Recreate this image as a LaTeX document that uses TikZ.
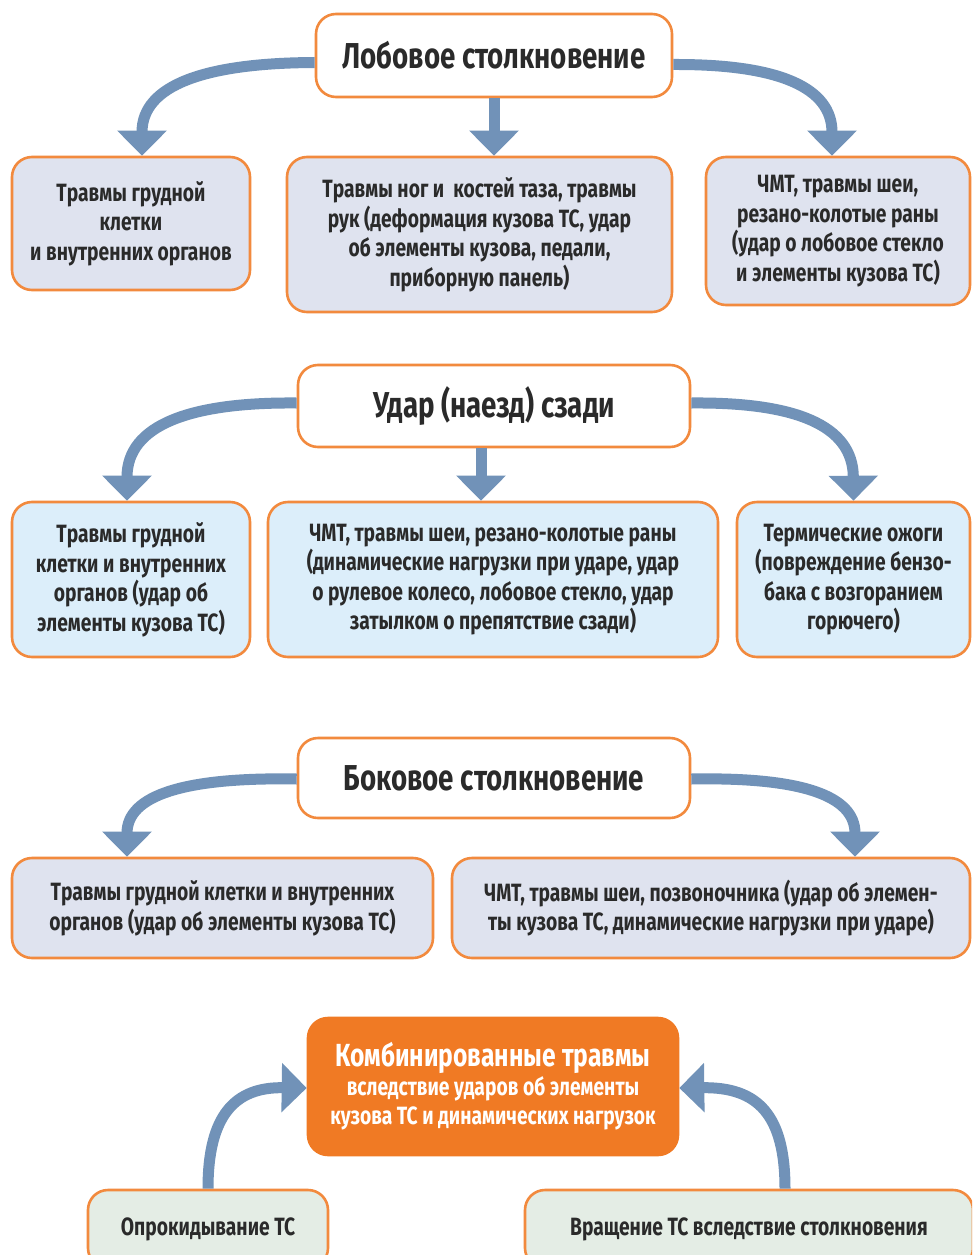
\documentclass[tikz,border=0pt]{standalone}
\usepackage{fontspec}
\newfontfamily\cond{Fira Sans}[FakeStretch=0.77]
\usetikzlibrary{arrows.meta}
\definecolor{orl}{HTML}{F28A3E}
\definecolor{orf}{HTML}{F07A24}
\definecolor{arrc}{HTML}{7192B8}
\definecolor{lav}{HTML}{DFE3EF}
\definecolor{lblue}{HTML}{DCEEFA}
\definecolor{lgreen}{HTML}{E4EDE5}
\definecolor{txt}{HTML}{2A2A2A}
\begin{document}
\begin{tikzpicture}[x=1pt,y=-1pt,
  box/.style={draw=orl, line width=2.6pt, rounded corners=20pt, align=center,
    text=txt, inner sep=0pt, font=\cond\bfseries\fontsize{25}{29.5}\selectfont},
  titlebox/.style={box, fill=white, font=\cond\bfseries\fontsize{36}{40}\selectfont},
  flow/.style={draw=arrc, line width=11pt, -{Triangle[width=48pt,length=25pt]}},
]
\useasboundingbox (0,0) rectangle (972,1255);
\clip (0,0) rectangle (972,1255);
\fill[white] (0,0) rectangle (972,1255);

% ---------- Section 1 ----------
\node[titlebox, minimum width=356pt, minimum height=83pt] (t1) at (494,55.5) {Лобовое столкновение};
\node[box, fill=lav, minimum width=238pt, minimum height=133pt] (a1) at (131,223.5)
  {Травмы грудной\\клетки\\и внутренних органов};
\node[box, fill=lav, minimum width=385pt, minimum height=155pt] (a2) at (479.5,234.5)
  {Травмы ног и\ \ костей таза, травмы\\рук (деформация кузова ТС, удар\\об элементы кузова, педали,\\приборную панель)};
\node[box, fill=lav, minimum width=264pt, minimum height=148pt] (a3) at (838,231)
  {ЧМТ, травмы шеи,\\резано-колотые раны\\(удар о лобовое стекло\\и элементы кузова ТС)};

\draw[flow] ([yshift=-7pt]t1.west) .. controls (205,63) and (142,85) .. ([xshift=11pt]a1.north);
\draw[flow] (t1.south) -- (t1.south |- a2.north);
\draw[flow] ([yshift=-9pt]t1.east) .. controls (780,64) and (832,88) .. ([xshift=-6pt]a3.north);

% ---------- Section 2 ----------
\node[titlebox, minimum width=392pt, minimum height=82pt] (t2) at (494,406) {Удар (наезд) сзади};
\node[box, fill=lblue, minimum width=238pt, minimum height=155pt] (b1) at (131,579.5)
  {Травмы грудной\\клетки и внутренних\\органов (удар об\\элементы кузова ТС)};
\node[box, fill=lblue, minimum width=450pt, minimum height=155pt] (b2) at (493,579.5)
  {ЧМТ, травмы шеи, резано-колотые раны\\(динамические нагрузки при ударе, удар\\о рулевое колесо, лобовое стекло, удар\\затылком о препятствие сзади)};
\node[box, fill=lblue, minimum width=233pt, minimum height=155pt] (b3) at (853.5,579.5)
  {Термические ожоги\\(повреждение бензо-\\бака с возгоранием\\горючего)};

\draw[flow] ([yshift=3pt]t2.west) .. controls (190,402) and (127,425) .. ([xshift=-4pt]b1.north);
\draw[flow] ([xshift=-13pt]t2.south) -- ([xshift=-13pt]t2.south |- b2.north);
\draw[flow] ([yshift=3pt]t2.east) .. controls (795,402) and (853,425) .. (b3.north);

% ---------- Section 3 ----------
\node[titlebox, minimum width=392pt, minimum height=80pt] (t3) at (494,778) {Боковое столкновение};
\node[box, fill=lav, minimum width=421pt, minimum height=100pt] (c1) at (222.5,908)
  {Травмы грудной клетки и внутренних\\органов (удар об элементы кузова ТС)};
\node[box, fill=lav, minimum width=518pt, minimum height=100pt] (c2) at (711,908)
  {ЧМТ, травмы шеи, позвоночника (удар об элемен-\\ты кузова ТС, динамические нагрузки при ударе)};

\draw[flow] ([yshift=-1pt]t3.west) .. controls (185,777) and (127,795) .. ([xshift=-95.5pt]c1.north);
\draw[flow] ([yshift=-1pt]t3.east) .. controls (800,777) and (855,795) .. ([xshift=144pt]c2.north);

% ---------- Section 4 ----------
\node[box, draw=orf, fill=orf, text=white, minimum width=370pt, minimum height=137pt] (o1) at (493,1086.5)
  {{\fontsize{32}{36}\selectfont Комбинированные травмы}\\[-1pt]
   вследствие ударов об элементы\\кузова ТС и динамических нагрузок};
\node[box, fill=lgreen, minimum width=240pt, minimum height=78pt] (d1) at (208,1229)
  {Опрокидывание ТС};
\node[box, fill=lgreen, minimum width=448pt, minimum height=78pt] (d2) at (749,1229)
  {Вращение ТС вследствие столкновения};

\draw[flow] (d1.north) .. controls (208,1115) and (235,1087) .. ([yshift=-1.5pt]o1.west);
\draw[flow] ([xshift=36pt]d2.north) .. controls (785,1115) and (758,1087) .. ([yshift=-1.5pt]o1.east);
\end{tikzpicture}
\end{document}
